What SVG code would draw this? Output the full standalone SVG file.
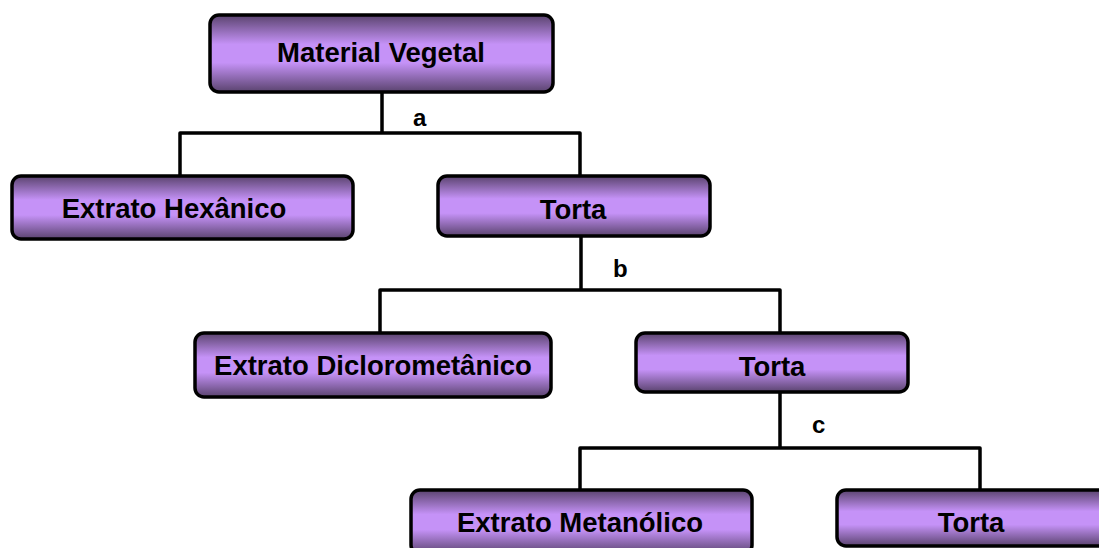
<svg xmlns="http://www.w3.org/2000/svg" width="1099" height="548" viewBox="0 0 1099 548">
<defs>
<linearGradient id="g" x1="0" y1="0" x2="0" y2="1">
<stop offset="0" stop-color="#5a436e"/>
<stop offset="0.38" stop-color="#c592f7"/>
<stop offset="0.62" stop-color="#c592f7"/>
<stop offset="1" stop-color="#5a436e"/>
</linearGradient>
<style>
.box{fill:url(#g);stroke:#000;stroke-width:3.5}
.t{font-family:"Liberation Sans",Arial,sans-serif;font-weight:bold;font-size:27.5px;fill:#000;text-anchor:middle}
.l{font-family:"Liberation Sans",Arial,sans-serif;font-weight:bold;font-size:24px;fill:#000}
.c{fill:none;stroke:#000;stroke-width:3.5;stroke-linejoin:round}
</style>
</defs>
<rect width="1099" height="548" fill="#fff"/>
<g id="connectors">
<path class="c" d="M382,92 V133 M180,176 V133 H580 V176"/>
<path class="c" d="M581,236 V290 M380,333 V290 H780 V333"/>
<path class="c" d="M780,392 V448 M580,490 V448 H980 V490"/>
<text class="l" x="413" y="126">a</text>
<text class="l" x="613" y="277">b</text>
<text class="l" x="812" y="433">c</text>
</g>
<g id="material-vegetal">
<rect class="box" x="210" y="15" width="343" height="77" rx="9"/>
<text class="t" x="381" y="62">Material Vegetal</text>
</g>
<g id="extrato-hexanico">
<rect class="box" x="12" y="176" width="341" height="63" rx="9"/>
<text class="t" x="174" y="218">Extrato Hexânico</text>
</g>
<g id="torta-1">
<rect class="box" x="438" y="176" width="272" height="60" rx="9"/>
<text class="t" x="573" y="219">Torta</text>
</g>
<g id="extrato-diclorometanico">
<rect class="box" x="195" y="333" width="356" height="64" rx="9"/>
<text class="t" x="373" y="375">Extrato Diclorometânico</text>
</g>
<g id="torta-2">
<rect class="box" x="636" y="333" width="272" height="59" rx="9"/>
<text class="t" x="772" y="376">Torta</text>
</g>
<g id="extrato-metanolico">
<rect class="box" x="411" y="490" width="341" height="64" rx="9"/>
<text class="t" x="580" y="532">Extrato Metanólico</text>
</g>
<g id="torta-3">
<rect class="box" x="837" y="490" width="290" height="56" rx="9"/>
<text class="t" x="971" y="532">Torta</text>
</g>
</svg>
